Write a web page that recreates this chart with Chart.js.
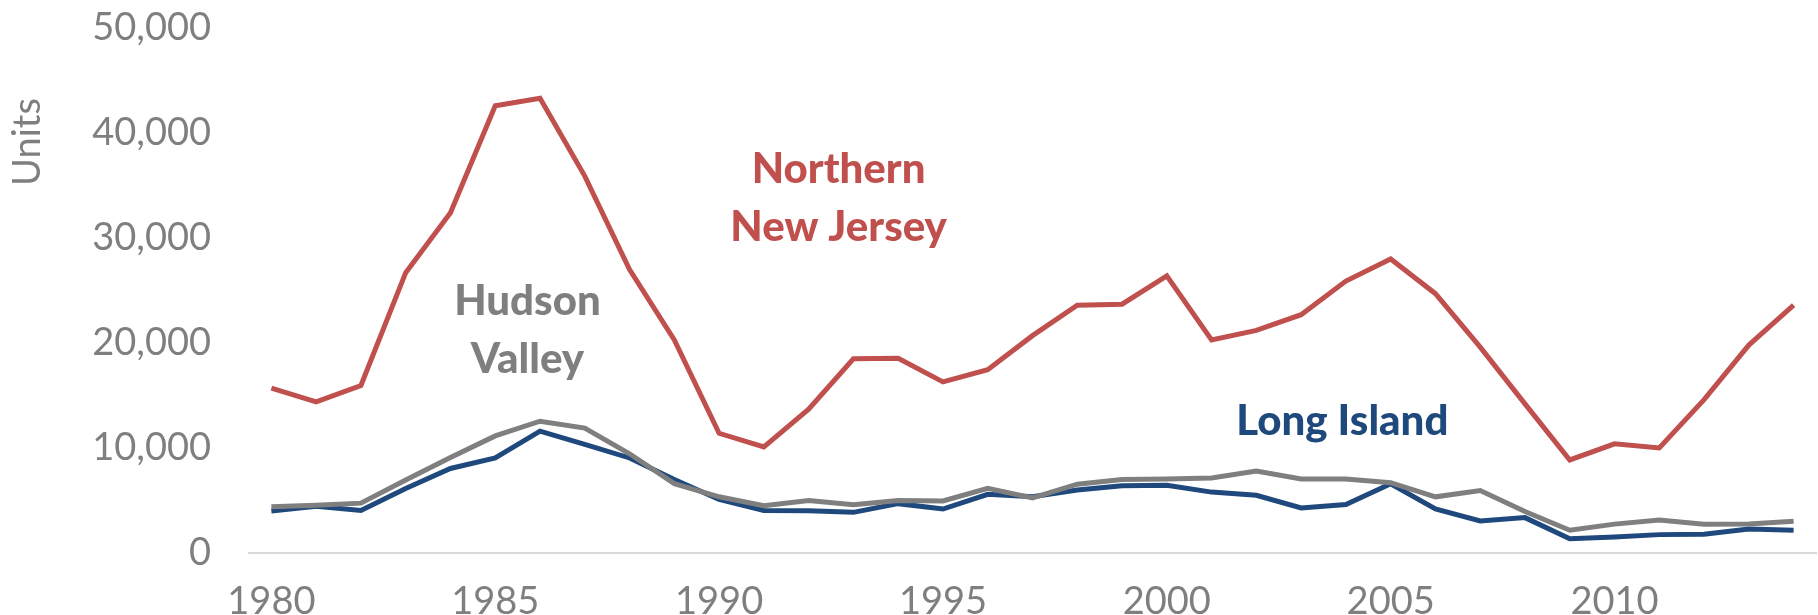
<!DOCTYPE html>
<html lang="en">
<head>
  <meta charset="UTF-8">
  <title>Housing units permitted by region</title>
  <script src="https://cdn.jsdelivr.net/npm/chart.js"></script>
  <style>
    html, body {
      margin: 0;
      padding: 0;
      background: #ffffff;
    }
    #wrap {
      width: 1818px;
      height: 615px;
      position: relative;
    }
  </style>
</head>
<body>
  <div id="wrap"><canvas id="grafica"></canvas></div>

  <script>
    // years on the x axis
    const years = [];
    for (let y = 1980; y <= 2014; y++) years.push(y);

    // values (units)
    const northernNJ = [15700, 14400, 15950, 26700, 32400, 42600, 43300, 35900, 27000, 20300,
                        11400, 10100, 13700, 18500, 18550, 16300, 17450, 20700, 23600, 23700,
                        26400, 20300, 21200, 22700, 25900, 28000, 24700, 19600, 14200, 8860,
                        10400, 10000, 14600, 19800, 23600];
    const hudsonValley = [4400, 4550, 4750, 6950, 9100, 11150, 12550, 11900, 9450, 6600,
                          5350, 4500, 5000, 4600, 5000, 4950, 6150, 5250, 6550, 7000,
                          7050, 7150, 7800, 7050, 7050, 6700, 5350, 5950, 3950, 2170,
                          2750, 3150, 2730, 2760, 3020];
    const longIsland = [4000, 4450, 4050, 6150, 8050, 9050, 11600, 10350, 9050, 7000,
                        5100, 4050, 4030, 3870, 4700, 4190, 5590, 5360, 6000, 6400,
                        6450, 5800, 5500, 4290, 4610, 6600, 4190, 3050, 3370, 1360,
                        1530, 1750, 1780, 2280, 2170];

    const yTicks = [0, 10000, 20000, 30000, 40000, 50000];

    const rojo = '#c0504d';
    const azul = '#1f497d';
    const gris = '#7f7f7f';
    const fuente = 'Lato, "DejaVu Sans", sans-serif';

    // in-chart labels, anchored at (year index, value)
    const etiquetas = [
      { text: 'Northern', x: 12.67, y: 36500, color: rojo },
      { text: 'New Jersey', x: 12.67, y: 31050, color: rojo },
      { text: 'Hudson', x: 5.72, y: 24000, color: gris },
      { text: 'Valley', x: 5.72, y: 18450, color: gris },
      { text: 'Long Island', x: 23.92, y: 12550, color: azul }
    ];

    const textos = {
      id: 'textos',
      afterDatasetsDraw(chart) {
        const ctx = chart.ctx;
        const sx = chart.scales.x, sy = chart.scales.y;
        ctx.save();
        ctx.textAlign = 'center';
        ctx.textBaseline = 'middle';
        ctx.font = '900 42px ' + fuente;
        etiquetas.forEach(e => {
          ctx.fillStyle = e.color;
          ctx.fillText(e.text, sx.getPixelForValue(e.x), sy.getPixelForValue(e.y));
        });
        // axis title
        ctx.translate(28, 142);
        ctx.rotate(-Math.PI / 2);
        ctx.font = '38px ' + fuente;
        ctx.fillStyle = gris;
        ctx.fillText('Units', 0, 0);
        ctx.restore();
      }
    };

    function linea(label, data, color) {
      return {
        label: label,
        data: data,
        borderColor: color,
        backgroundColor: color,
        borderWidth: 5,
        pointRadius: 0,
        tension: 0,
        fill: false
      };
    }

    new Chart(document.getElementById('grafica'), {
      type: 'line',
      data: {
        labels: years,
        datasets: [
          linea('Northern New Jersey', northernNJ, rojo),
          linea('Hudson Valley', hudsonValley, gris),
          linea('Long Island', longIsland, azul)
        ]
      },
      options: {
        responsive: true,
        maintainAspectRatio: false,
        animation: false,
        locale: 'en-US',
        layout: { padding: { top: 28, right: 2, left: 0, bottom: 0 } },
        plugins: {
          legend: { display: false },
          tooltip: { enabled: false }
        },
        scales: {
          x: {
            type: 'category',
            offset: true,
            grid: { display: false, drawTicks: false },
            border: { display: true, color: '#d9d9d9', width: 2 },
            ticks: {
              autoSkip: false,
              maxRotation: 0,
              padding: 26,
              color: gris,
              font: { family: fuente, size: 38 },
              callback: function (v, i) {
                const yr = years[i];
                return yr % 5 === 0 ? String(yr) : '';
              }
            },
            afterFit(s) {
              s.height = 62;
              s.paddingLeft = 0;
              s.paddingRight = 0;
            }
          },
          y: {
            min: 0,
            max: 50000,
            grid: { display: false, drawTicks: false },
            border: { display: false },
            afterBuildTicks(s) { s.ticks = yTicks.map(v => ({ value: v })); },
            ticks: {
              padding: 38,
              color: gris,
              font: { family: fuente, size: 38 },
              callback: v => v.toLocaleString('en-US')
            },
            afterFit(s) {
              s.width = 249;
              s.paddingTop = 0;
              s.paddingBottom = 0;
            }
          }
        }
      },
      plugins: [textos]
    });
  </script>
</body>
</html>
